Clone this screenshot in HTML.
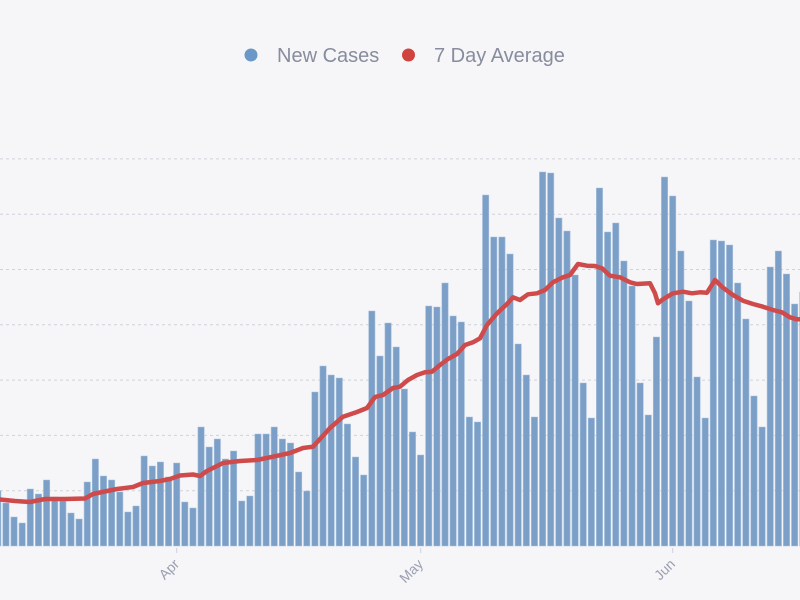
<!DOCTYPE html>
<html><head><meta charset="utf-8"><style>
html,body{margin:0;padding:0;background:#f6f6f8;}
svg{display:block;}
</style></head><body>
<svg width="800" height="600" viewBox="0 0 800 600" xmlns="http://www.w3.org/2000/svg">
<rect width="800" height="600" fill="#f6f6f8"/>
<g stroke="#d0d2da" stroke-width="1" stroke-dasharray="3,3">
<line x1="0" x2="800" y1="158.9" y2="158.9"/>
<line x1="0" x2="800" y1="214.2" y2="214.2"/>
<line x1="0" x2="800" y1="269.5" y2="269.5"/>
<line x1="0" x2="800" y1="324.8" y2="324.8"/>
<line x1="0" x2="800" y1="380.1" y2="380.1"/>
<line x1="0" x2="800" y1="435.4" y2="435.4"/>
<line x1="0" x2="800" y1="490.7" y2="490.7"/>
</g>
<path fill="#7b9fc6" stroke="#a9c2df" stroke-width="0.6" d="
M-5.35,546V490.7h6.3V546z
M2.78,546V503h6.3V546z
M10.91,546V517h6.3V546z
M19.04,546V523h6.3V546z
M27.17,546V489h6.3V546z
M35.31,546V494h6.3V546z
M43.44,546V480h6.3V546z
M51.57,546V497h6.3V546z
M59.70,546V501h6.3V546z
M67.83,546V513h6.3V546z
M75.96,546V519h6.3V546z
M84.09,546V482h6.3V546z
M92.22,546V459h6.3V546z
M100.35,546V476h6.3V546z
M108.48,546V480h6.3V546z
M116.62,546V492h6.3V546z
M124.75,546V512h6.3V546z
M132.88,546V506h6.3V546z
M141.01,546V456h6.3V546z
M149.14,546V466h6.3V546z
M157.27,546V462h6.3V546z
M165.40,546V477h6.3V546z
M173.53,546V463h6.3V546z
M181.66,546V502h6.3V546z
M189.79,546V508h6.3V546z
M197.93,546V427h6.3V546z
M206.06,546V447h6.3V546z
M214.19,546V439h6.3V546z
M222.32,546V459h6.3V546z
M230.45,546V451h6.3V546z
M238.58,546V501h6.3V546z
M246.71,546V496h6.3V546z
M254.84,546V434h6.3V546z
M262.97,546V434h6.3V546z
M271.10,546V427h6.3V546z
M279.24,546V439h6.3V546z
M287.37,546V443h6.3V546z
M295.50,546V472h6.3V546z
M303.63,546V491h6.3V546z
M311.76,546V392h6.3V546z
M319.89,546V366h6.3V546z
M328.02,546V375h6.3V546z
M336.15,546V378h6.3V546z
M344.28,546V424h6.3V546z
M352.41,546V457h6.3V546z
M360.55,546V475h6.3V546z
M368.68,546V311h6.3V546z
M376.81,546V356h6.3V546z
M384.94,546V323h6.3V546z
M393.07,546V347h6.3V546z
M401.20,546V389h6.3V546z
M409.33,546V432h6.3V546z
M417.46,546V455h6.3V546z
M425.59,546V306h6.3V546z
M433.72,546V307h6.3V546z
M441.86,546V283h6.3V546z
M449.99,546V316h6.3V546z
M458.12,546V322h6.3V546z
M466.25,546V417h6.3V546z
M474.38,546V422h6.3V546z
M482.51,546V195h6.3V546z
M490.64,546V237h6.3V546z
M498.77,546V237h6.3V546z
M506.90,546V254h6.3V546z
M515.03,546V344h6.3V546z
M523.17,546V375h6.3V546z
M531.30,546V417h6.3V546z
M539.43,546V172h6.3V546z
M547.56,546V173h6.3V546z
M555.69,546V218h6.3V546z
M563.82,546V231h6.3V546z
M571.95,546V275h6.3V546z
M580.08,546V383h6.3V546z
M588.21,546V418h6.3V546z
M596.34,546V188h6.3V546z
M604.48,546V232h6.3V546z
M612.61,546V223h6.3V546z
M620.74,546V261h6.3V546z
M628.87,546V286h6.3V546z
M637.00,546V383h6.3V546z
M645.13,546V415h6.3V546z
M653.26,546V337h6.3V546z
M661.39,546V177h6.3V546z
M669.52,546V196h6.3V546z
M677.65,546V251h6.3V546z
M685.79,546V301h6.3V546z
M693.92,546V377h6.3V546z
M702.05,546V418h6.3V546z
M710.18,546V240h6.3V546z
M718.31,546V241h6.3V546z
M726.44,546V245h6.3V546z
M734.57,546V283h6.3V546z
M742.70,546V319h6.3V546z
M750.83,546V396h6.3V546z
M758.96,546V427h6.3V546z
M767.10,546V267h6.3V546z
M775.23,546V251h6.3V546z
M783.36,546V274h6.3V546z
M791.49,546V304h6.3V546z
M799.62,546V292h6.3V546z"/>
<polyline fill="none" stroke="#cf4b4b" stroke-width="4.5" stroke-linejoin="round" stroke-linecap="round" points="0,499.5 15,501 30,502 45,499 65,499 85,498.5 93,494 100,492.5 117,489 133,487 143,483 160,481 170,479 180,475.5 193,474.5 200,476 207,471 223,463 240,461 257,460 273,456.7 290,453 303,448 313,446.7 330,428 343,416.7 357,412 367,408 375,397 383,395 393,388 400,386.7 408,380 417,375 425,372.3 432,371.7 440,365 448,359 457,354 465,345 473,342.3 480,338.3 487,325 497,313.3 507,304 513,297.3 520,300 528,294.3 537,293.3 545,290 553,282.3 563,277.3 570,275 578,264 587,265.7 595,266 602,268.3 610,275.7 620,277.3 630,282.3 637,284 650,283.3 655,293.3 658,303.3 663,299.3 673,293.3 683,291.7 692,293.3 700,292.3 707,292.7 715,280 723,287.7 733,295 743,300.7 753,304 763,306.7 773,310 782,312.3 790,317.3 797,319.3 800,319.3"/>
<g stroke="#cfd2da" stroke-width="1">
<line x1="176.7" x2="176.7" y1="548" y2="553"/>
<line x1="420.7" x2="420.7" y1="548" y2="553"/>
<line x1="672.7" x2="672.7" y1="548" y2="553"/>
</g>
<g font-family="Liberation Sans, sans-serif" font-size="14" fill="#9a9eb0" text-anchor="end">
<text transform="translate(180,565) rotate(-45)">Apr</text>
<text transform="translate(424,565) rotate(-45)">May</text>
<text transform="translate(676,565) rotate(-45)">Jun</text>
</g>
<circle cx="251" cy="55" r="6.5" fill="#6b98c6"/>
<text x="277" y="62" font-family="Liberation Sans, sans-serif" font-size="20" fill="#878c9e">New Cases</text>
<circle cx="408.5" cy="55" r="6.5" fill="#d0443f"/>
<text x="434" y="62" font-family="Liberation Sans, sans-serif" font-size="20" fill="#878c9e">7 Day Average</text>
</svg>
</body></html>
